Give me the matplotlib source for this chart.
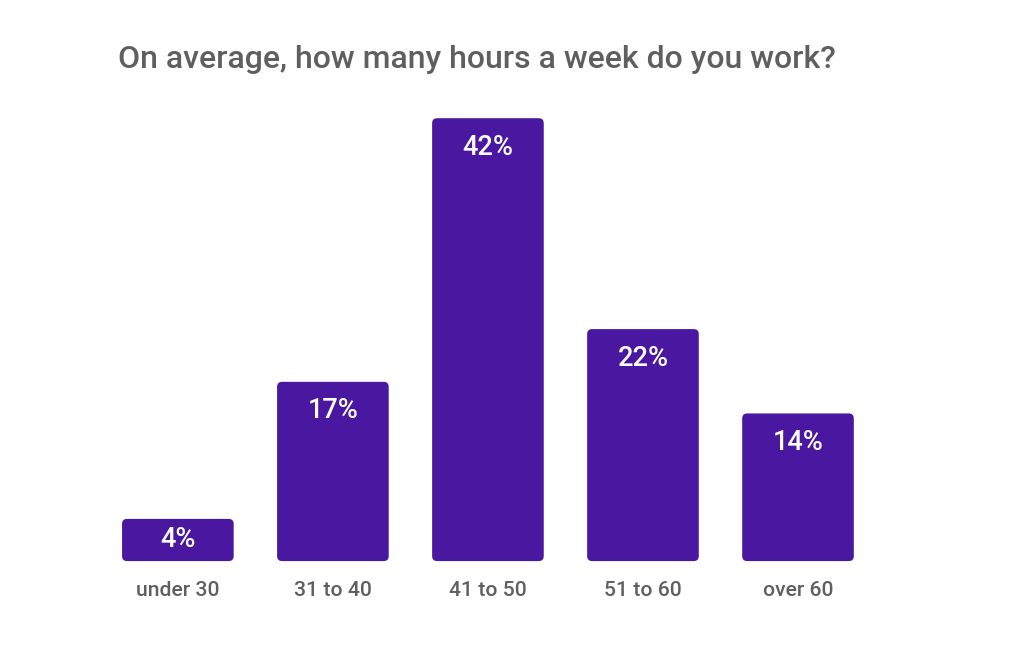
import matplotlib
matplotlib.use("Agg")
import matplotlib.pyplot as plt
from matplotlib.patches import FancyBboxPatch

categories = ["under 30", "31 to 40", "41 to 50", "51 to 60", "over 60"]
values = [4, 17, 42, 22, 14]
labels = ["4%", "17%", "42%", "22%", "14%"]

BAR = "#4a17a0"
GREY = "#5f5f5f"

plt.rcParams["font.family"] = ["Roboto", "DejaVu Sans"]

fig = plt.figure(figsize=(10.24, 6.64), dpi=100)
ax = fig.add_axes([0.098, 0.155, 0.757, 0.667])
ax.set_xlim(-0.5, len(categories) - 0.5)
ax.set_ylim(0, max(values))

bars = ax.bar(range(len(categories)), values, width=0.72, color=BAR)

# swap plain bars for rounded ones
px_x = 775 / 5
px_y = 443 / 42
for b in bars:
    x, w, h = b.get_x(), b.get_width(), b.get_height()
    b.remove()
    r = 5 / px_x
    p = FancyBboxPatch((x, 0), w, h,
                       boxstyle=f"round,pad=0,rounding_size={r}",
                       mutation_aspect=px_x / px_y,
                       facecolor=BAR, edgecolor="none", clip_on=False)
    ax.add_patch(p)

for i, (v, lab) in enumerate(zip(values, labels)):
    off = min(29, v * px_y / 2) * 0.72
    ax.annotate(lab, (i, v), xytext=(0, -off), textcoords="offset points",
                ha="center", va="center", color="white", fontsize=19.5,
                fontweight="medium")

ax.set_xticks(range(len(categories)))
ax.set_xticklabels(categories, fontsize=15.2, color=GREY, fontweight="medium")
ax.tick_params(axis="x", length=0, pad=14)
ax.set_yticks([])
for s in ax.spines.values():
    s.set_visible(False)

fig.text(118 / 1024, 1 - 59 / 664, "On average, how many hours a week do you work?",
         fontsize=23, color=GREY, fontweight="medium", ha="left", va="center")

fig.savefig("out.png", dpi=100, facecolor="white")
